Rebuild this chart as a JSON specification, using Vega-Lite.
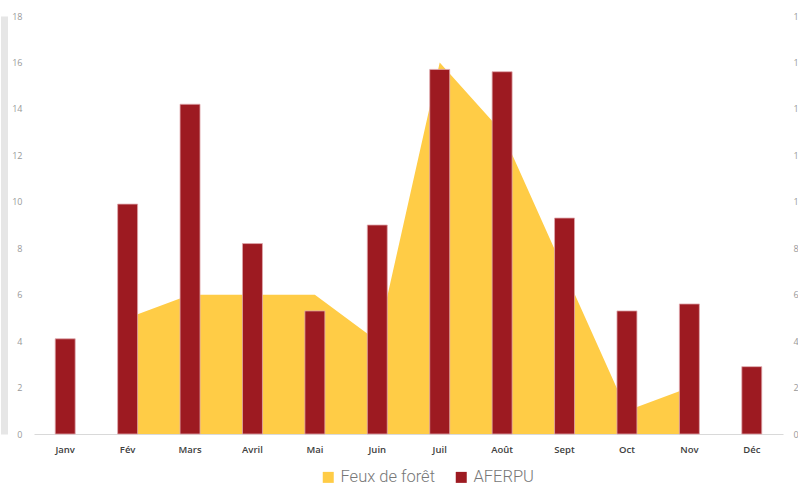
{
  "$schema": "https://vega.github.io/schema/vega-lite/v6.json",
  "width": 749,
  "height": 418,
  "autosize": {"type": "none"},
  "padding": {"left": 34, "top": 16, "right": 15, "bottom": 50},
  "background": "white",
  "config": {"view": {"stroke": null}, "font": "Open Sans"},
  "data": {
    "values": [
      {"mois": "Fév", "serie": "Feux de forêt", "valeur": 5},
      {"mois": "Mars", "serie": "Feux de forêt", "valeur": 6},
      {"mois": "Avril", "serie": "Feux de forêt", "valeur": 6},
      {"mois": "Mai", "serie": "Feux de forêt", "valeur": 6},
      {"mois": "Juin", "serie": "Feux de forêt", "valeur": 4},
      {"mois": "Juil", "serie": "Feux de forêt", "valeur": 16},
      {"mois": "Août", "serie": "Feux de forêt", "valeur": 13},
      {"mois": "Sept", "serie": "Feux de forêt", "valeur": 7},
      {"mois": "Oct", "serie": "Feux de forêt", "valeur": 1},
      {"mois": "Nov", "serie": "Feux de forêt", "valeur": 2},
      {"mois": "Janv", "serie": "AFERPU", "valeur": 4.1},
      {"mois": "Fév", "serie": "AFERPU", "valeur": 9.9},
      {"mois": "Mars", "serie": "AFERPU", "valeur": 14.2},
      {"mois": "Avril", "serie": "AFERPU", "valeur": 8.2},
      {"mois": "Mai", "serie": "AFERPU", "valeur": 5.3},
      {"mois": "Juin", "serie": "AFERPU", "valeur": 9.0},
      {"mois": "Juil", "serie": "AFERPU", "valeur": 15.7},
      {"mois": "Août", "serie": "AFERPU", "valeur": 15.6},
      {"mois": "Sept", "serie": "AFERPU", "valeur": 9.3},
      {"mois": "Oct", "serie": "AFERPU", "valeur": 5.3},
      {"mois": "Nov", "serie": "AFERPU", "valeur": 5.6},
      {"mois": "Déc", "serie": "AFERPU", "valeur": 2.9}
    ]
  },
  "layer": [
    {
      "transform": [{"filter": "datum.serie === 'Feux de forêt'"}],
      "mark": {"type": "area", "interpolate": "linear"},
      "encoding": {
        "x": {
          "field": "mois", "type": "nominal",
          "sort": ["Janv", "Fév", "Mars", "Avril", "Mai", "Juin", "Juil", "Août", "Sept", "Oct", "Nov", "Déc"],
          "scale": {"domain": ["Janv", "Fév", "Mars", "Avril", "Mai", "Juin", "Juil", "Août", "Sept", "Oct", "Nov", "Déc"], "paddingInner": 0.68, "paddingOuter": 0.34},
          "axis": {"title": null, "labelAngle": 0, "ticks": false, "domainColor": "#d9d9d9", "labelColor": "#404040", "labelFontSize": 9.5, "labelFontWeight": 600, "labelPadding": 10}
        },
        "y": {
          "field": "valeur", "type": "quantitative",
          "scale": {"domain": [0, 18]},
          "axis": {"orient": "right", "title": null, "values": [0, 2, 4, 6, 8, 10, 12, 14, 16, 18], "ticks": false, "domain": false, "grid": false, "labelColor": "#999999", "labelFontSize": 9, "labelPadding": 10}
        },
        "color": {
          "field": "serie", "type": "nominal",
          "scale": {"domain": ["Feux de forêt", "AFERPU"], "range": ["#FFCC46", "#9D1A21"]},
          "legend": {"orient": "none", "legendX": 286, "legendY": 453, "title": null, "direction": "horizontal", "symbolType": "square", "symbolSize": 121, "symbolStrokeWidth": 0, "labelFont": "Roboto", "labelFontWeight": 300, "labelFontSize": 16.5, "labelColor": "#777777", "labelOffset": 4, "columnPadding": 18}
        }
      }
    },
    {
      "transform": [{"filter": "datum.serie === 'AFERPU'"}],
      "mark": {"type": "bar", "stroke": "#e0a8ad", "strokeWidth": 0.8},
      "encoding": {
        "x": {
          "field": "mois", "type": "nominal",
          "sort": ["Janv", "Fév", "Mars", "Avril", "Mai", "Juin", "Juil", "Août", "Sept", "Oct", "Nov", "Déc"]
        },
        "y": {
          "field": "valeur", "type": "quantitative",
          "scale": {"domain": [0, 18]},
          "axis": {"orient": "left", "title": null, "values": [0, 2, 4, 6, 8, 10, 12, 14, 16, 18], "ticks": false, "grid": false, "domain": true, "domainColor": "#e6e6e6", "domainWidth": 7, "offset": 30, "labelColor": "#999999", "labelFontSize": 9, "labelPadding": -18, "labelAlign": "right",
            "encode": {"domain": {"update": {"y": {"value": -16}, "y2": {"value": 468}}}}}
        },
        "color": {"field": "serie", "type": "nominal"}
      }
    }
  ],
  "resolve": {"scale": {"y": "independent"}}
}
